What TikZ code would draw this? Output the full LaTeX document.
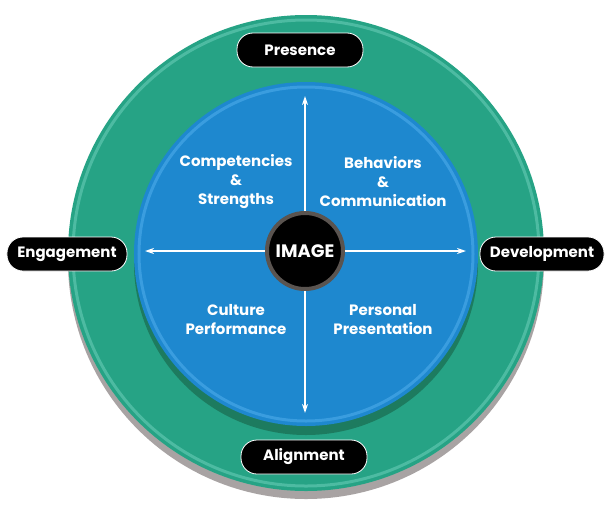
\documentclass[tikz,border=0pt]{standalone}
\usepackage{fontspec}
\setmainfont{Poppins}
\usetikzlibrary{arrows.meta, positioning}
\definecolor{ringgreen}{HTML}{26A385}
\definecolor{ringrim}{HTML}{4DBBA2}
\definecolor{ringshadow}{HTML}{A8A3A3}
\definecolor{discblue}{HTML}{1E88CF}
\definecolor{discrim}{HTML}{3A9DDF}
\definecolor{discshadow}{HTML}{1D7B5F}
\definecolor{hubrim}{HTML}{5A5450}
\tikzset{
  pill/.style = {fill=black, draw=white, line width=0.8pt, rounded corners=16pt,
    minimum width=126pt, minimum height=34pt, text=white, font=\bfseries\fontsize{15}{18}\selectfont},
  quad/.style = {text=white, align=center, font=\bfseries\fontsize{15}{19}\selectfont},
  axis/.style = {white, line width=1.6pt, -{Stealth[length=9pt, width=6pt]}}
}
\begin{document}
\begin{tikzpicture}[x=1pt, y=1pt]
\useasboundingbox (-306,-259) rectangle (303,253);
% rings
\fill [ringshadow] (0,-8) circle [radius=238];
\fill [ringgreen] (0,0) circle [radius=238];
\draw [ringrim, line width=3pt] (0,0) circle [radius=233];
\fill [discshadow] (0,-10) circle [radius=172];
\fill [discblue] (0,-1) circle [radius=172];
\draw [discrim, line width=3pt] (0,-1) circle [radius=167];
% axes
\coordinate (O) at (-1,2);
\coordinate (N) at (-1,157);
\coordinate (S) at (-1,-160);
\coordinate (W) at (-161,2);
\coordinate (E) at (160,2);
\draw [axis] (O) -- (N);
\draw [axis] (O) -- (S);
\draw [axis] (O) -- (W);
\draw [axis] (O) -- (E);
\node [circle, fill=black, draw=hubrim, line width=4pt, minimum size=76pt, inner sep=0pt,
  text=white, font=\bfseries\fontsize{18}{20}\selectfont] (hub) at (O) {IMAGE};
% quadrants
\node [quad] (compet) at (-70,71) {Competencies\\\&\\Strengths};
\node [quad] (behav) at (77,71) {Behaviors\\\&\\Communication};
\node [quad] (cult) at (-70,-67) {Culture\\Performance};
\node [quad] (pers) at (77,-67) {Personal\\Presentation};
% labels
\node [pill] (presence) at (-6,203) {Presence};
\node [pill, minimum width=120pt] (engage) at (-239,-1) {Engagement};
\node [pill, minimum width=124pt] (develop) at (236,-1) {Development};
\node [pill] (align) at (-2,-204) {Alignment};
\end{tikzpicture}
\end{document}
